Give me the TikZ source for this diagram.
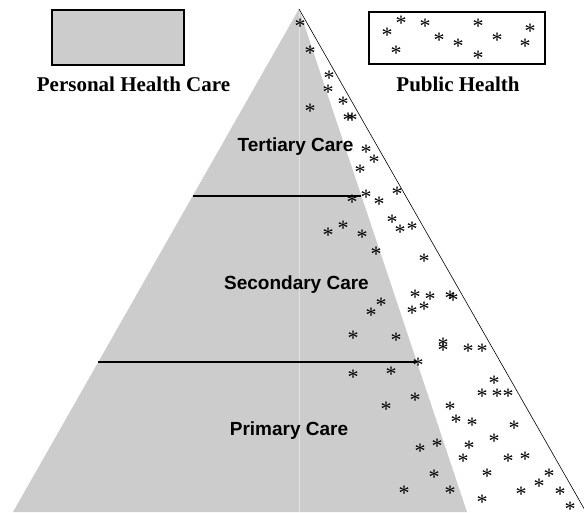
\documentclass[tikz,border=0pt]{standalone}
\usepackage{fontspec}
\setmainfont{Liberation Serif}
\newfontfamily\arialfont{Liberation Sans}
\usetikzlibrary{calc}

\definecolor{carefill}{RGB}{204,204,204}
\definecolor{midline}{RGB}{226,226,226}

\begin{document}
\begin{tikzpicture}[x=1pt, y=-1pt,
                    legend box/.style={draw, line width=2pt, inner sep=0pt},
                    legend text/.style={anchor=base, inner sep=0pt, font=\fontsize{21}{21}\selectfont\bfseries},
                    level text/.style={anchor=base, inner sep=0pt, font=\arialfont\fontsize{19}{19}\selectfont\bfseries},
                    spot/.style={anchor=base, inner sep=0pt, yshift=-10.4pt, font=\fontsize{22}{22}\selectfont}]

  \useasboundingbox (0,0) rectangle (584,512);

  % the pyramid
  \coordinate (top) at (299,9);
  \coordinate (bl) at (13,512);
  \coordinate (br) at (467,512);
  \coordinate (mid) at (299,512);
  \coordinate (far) at (586,512);
  \fill[carefill] (top) -- (bl) -- (br) -- cycle;
  \draw[midline, line width=0.8pt] (top) -- (mid);
  \draw[line width=0.6pt] (top) -- (far);

  % public health spots
  \foreach \x/\y [count=\i] in {300/23, 310/50, 329/75, 328/89, 343/101, 310/108, 348/117, 352/117,
      366/149, 374/159, 360/169, 397/191, 366/194, 352/199, 379/201,
      392/219, 400/229, 412/226, 343/225, 328/232, 362/234, 376/251, 424/258,
      415/294, 430/296, 450/295, 453/297, 381/302, 371/312, 412/310, 424/306,
      353/335, 396/337, 443/342, 443/347, 468/348, 482/348, 418/362,
      353/374, 391/371, 494/380, 482/393, 497/393, 508/393, 415/397, 386/406, 450/406,
      456/419, 472/422, 514/425, 494/438, 437/443, 420/448, 469/445,
      463/458, 508/458, 525/456, 434/474, 487/473, 549/473, 539/483,
      404/490, 450/490, 521/491, 560/491, 482/499, 570/506}
    \node[spot] (ph\i) at (\x,\y) {*};

  % level borders
  \coordinate (t1l) at ($(top)!0.372!(bl)$);
  \coordinate (t1r) at ($(top)!0.372!(br)$);
  \coordinate (t2l) at ($(top)!0.702!(bl)$);
  \coordinate (t2r) at ($(top)!0.702!(br)$);
  \draw[line width=2pt] (t1l) -- (t1r);
  \draw[line width=2pt] (t2l) -- (t2r);

  \node[level text] (tertiary) at (295.5,151) {Tertiary Care};
  \node[level text] (secondary) at (296.5,289) {Secondary Care};
  \node[level text] (primary) at (289,435) {Primary Care};

  % legend
  \node[legend box, fill=carefill, minimum width=132pt, minimum height=55pt] (personal) at (118,37.5) {};
  \node[legend text] (personal label) at (133.5,91) {Personal Health Care};
  \node[legend box, minimum width=176pt, minimum height=52pt] (public) at (457,38) {};
  \node[legend text] (public label) at (458,91) {Public Health};

  \foreach \x/\y [count=\i] in {401/20, 387/32, 425/23, 478/23, 530/28, 439/37,
      458/43, 497/37, 525/43, 396/50, 478/55}
    \node[spot] (key\i) at (\x,\y) {*};
\end{tikzpicture}
\end{document}
